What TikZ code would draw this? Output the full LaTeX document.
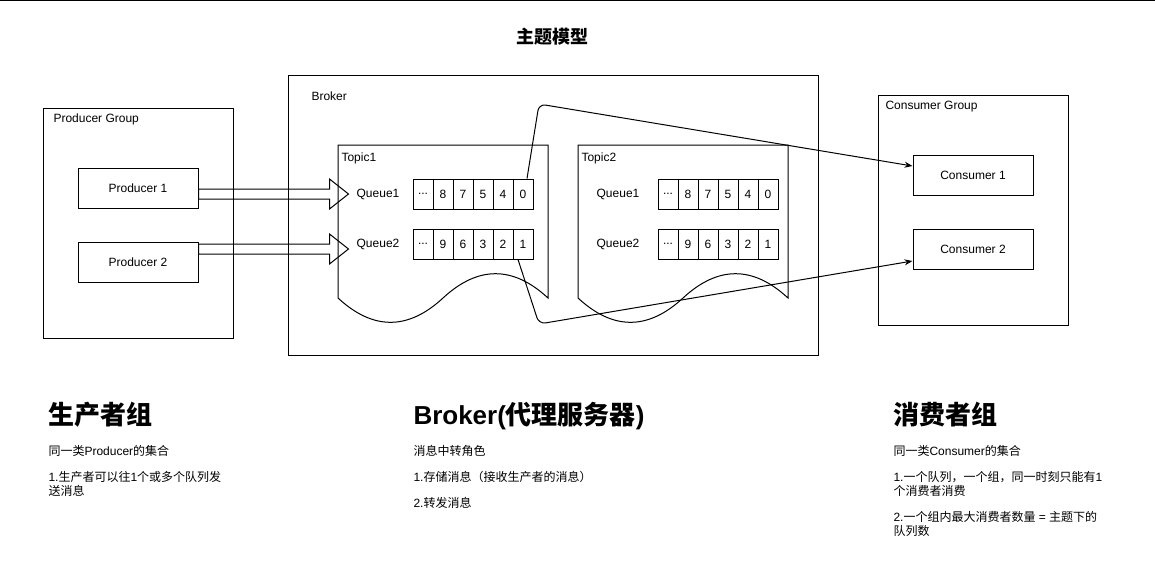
\documentclass[tikz,border=0pt]{standalone}
\usepackage{fontspec}
\setmainfont{Liberation Sans}
\newfontfamily\cjk{Noto Sans CJK SC}
\usetikzlibrary{arrows.meta,calc}
\newcommand{\zh}[1]{{\cjk #1}}
\begin{document}
\begin{tikzpicture}[x=0.75pt,y=-0.75pt, line width=0.75pt,
  every node/.style={font=\fontsize{9}{10.5}\selectfont},
  box/.style={draw, minimum width=90pt, minimum height=30pt, inner sep=0},
  group/.style={draw, inner sep=0, anchor=north west},
  cell/.style={draw, minimum width=15pt, minimum height=22.5pt, inner sep=0},
  lbl/.style={anchor=base west, inner sep=0},
  txt/.style={anchor=base west, inner sep=0},
  head/.style={anchor=base west, inner sep=0, font=\fontsize{19.5}{22}\selectfont\bfseries},
  link/.style={-{Stealth[length=6pt,width=4.5pt]}, rounded corners=5pt},
  flex/.style={draw, line join=miter}
]
\useasboundingbox (0,0) rectangle (1155,576);
\coordinate (tl) at (0,0.6);
\coordinate (tr) at (1155,0.6);
\draw (tl) -- (tr);

% title
\node[anchor=base, inner sep=0, font=\fontsize{13.5}{16}\selectfont\bfseries] (title) at (552,43) {\zh{主题模型}};

% groups
\node[group, minimum width=142.5pt, minimum height=172.5pt] (pg) at (43,108) {};
\node[lbl] (pgl) at (53,122) {Producer Group};
\node[group, minimum width=397.5pt, minimum height=210pt] (br) at (288,75) {};
\node[lbl] (brl) at (311,100) {Broker};
\node[group, minimum width=142.5pt, minimum height=172.5pt] (cg) at (878,95) {};
\node[lbl] (cgl) at (885,109) {Consumer Group};

% producers / consumers
\node[box] (p1) at (138,188) {Producer 1};
\node[box] (p2) at (138,262) {Producer 2};
\node[box] (c1) at (973,175) {Consumer 1};
\node[box] (c2) at (973,249) {Consumer 2};

% topics
\draw (338,145) -- (548,145) -- (548,298)
  .. controls (513,265.6) and (478,265.6) .. (443,298)
  .. controls (408,330.4) and (373,330.4) .. (338,298) -- cycle;
\node[lbl] (t1l) at (341,161) {Topic1};
\draw (578,145) -- (788,145) -- (788,298)
  .. controls (753,265.6) and (718,265.6) .. (683,298)
  .. controls (648,330.4) and (613,330.4) .. (578,298) -- cycle;
\node[lbl] (t2l) at (581,161) {Topic2};

% queues
\node (t1q1) at (378,194) {Queue1};
\node (t1q2) at (378,244) {Queue2};
\node (t2q1) at (618,194) {Queue1};
\node (t2q2) at (618,244) {Queue2};

\node[cell] (t1q1c1) at (423,194) {...};
\foreach \v [count=\i from 2] in {8,7,5,4,0}
  \node[cell] (t1q1c\i) at (403+20*\i,194) {\v};
\node[cell] (t1q2c1) at (423,244) {...};
\foreach \v [count=\i from 2] in {9,6,3,2,1}
  \node[cell] (t1q2c\i) at (403+20*\i,244) {\v};
\node[cell] (t2q1c1) at (668,194) {...};
\foreach \v [count=\i from 2] in {8,7,5,4,0}
  \node[cell] (t2q1c\i) at (648+20*\i,194) {\v};
\node[cell] (t2q2c1) at (668,244) {...};
\foreach \v [count=\i from 2] in {9,6,3,2,1}
  \node[cell] (t2q2c\i) at (648+20*\i,244) {\v};

% flex arrows
\coordinate (a1) at ($(p1.east)+(0,6)$);
\draw[flex] (a1) ++(0,-5) -- ++(131,0) -- ++(0,-10) -- ++(19,15) -- ++(-19,15) -- ++(0,-10) -- ++(-131,0) -- cycle;
\coordinate (a2) at ($(p2.east)+(0,-13)$);
\draw[flex] (a2) ++(0,-5) -- ++(131,0) -- ++(0,-10) -- ++(19,15) -- ++(-19,15) -- ++(0,-10) -- ++(-131,0) -- cycle;

% links
\coordinate (w1) at (539,104);
\coordinate (w2) at (539,324);
\draw[link] ([xshift=3pt]t1q1c6.north) -- (w1) -- ([yshift=6.75pt]c1.west);
\draw[link] ([xshift=-3.75pt]t1q2c6.south) -- (w2) -- ([yshift=-9pt]c2.west);

% bottom texts
\node[head] (h1) at (48,424) {\zh{生产者组}};
\node[txt] (h1a) at (48,455.5) {\zh{同一类}Producer\zh{的集合}};
\node[txt] (h1b) at (48,481.5) {1.\zh{生产者可以往}1\zh{个或多个队列发}};
\node[txt] (h1c) at (48,495.5) {\zh{送消息}};

\node[head] (h2) at (413,424) {Broker(\zh{代理服务器})};
\node[txt] (h2a) at (413,455.5) {\zh{消息中转角色}};
\node[txt] (h2b) at (413,481.5) {1.\zh{存储消息（接收生产者的消息）}};
\node[txt] (h2c) at (413,507.5) {2.\zh{转发消息}};

\node[head] (h3) at (893,424) {\zh{消费者组}};
\node[txt] (h3a) at (893,455.5) {\zh{同一类}Consumer\zh{的集合}};
\node[txt] (h3b) at (893,481.5) {1.\zh{一个队列，一个组，同一时刻只能有}1};
\node[txt] (h3c) at (893,495.5) {\zh{个消费者消费}};
\node[txt] (h3d) at (893,521.5) {2.\zh{一个组内最大消费者数量} = \zh{主题下的}};
\node[txt] (h3e) at (893,535.5) {\zh{队列数}};
\end{tikzpicture}
\end{document}
